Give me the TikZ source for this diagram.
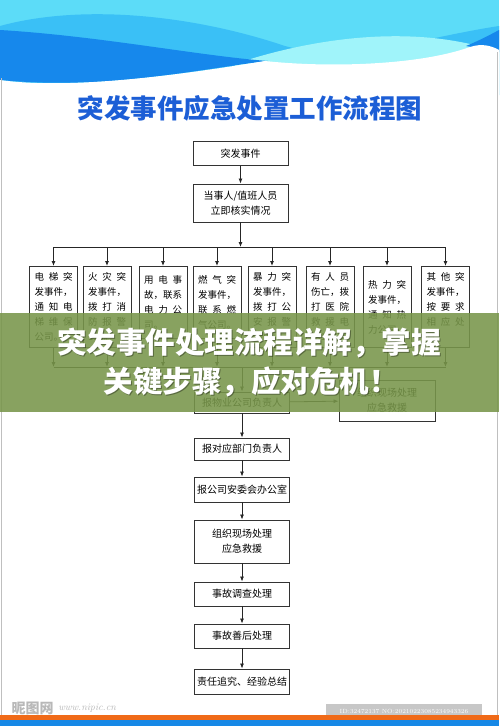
\documentclass[tikz,border=0pt]{standalone}
\usepackage{fontspec}
\newfontfamily\cjk{Noto Sans CJK SC}
\usetikzlibrary{
  arrows.meta,
  positioning
}
\definecolor{titleblue}{RGB}{28,94,214}
\definecolor{skycyan}{RGB}{92,220,248}
\definecolor{midblue}{RGB}{58,192,246}
\definecolor{deepblue}{RGB}{22,136,236}
\definecolor{paleaqua}{RGB}{160,244,250}
\definecolor{bannergreen}{RGB}{120,150,74}
\definecolor{barorange}{RGB}{240,106,24}
\definecolor{barblue}{RGB}{22,136,230}
\tikzset{
  flow/.style={-{Latex[length=5pt,width=4pt]},line width=.8pt,draw=black!85},
  rail/.style={line width=.8pt,draw=black!85},
  box/.style={
    draw=black!80,
    fill=white,
    line width=.9pt,
    align=center,
    minimum width=95pt,
    inner sep=2pt,
    font=\cjk\fontsize{10}{15}\selectfont
  },
  evbox/.style={
    draw=black!80,
    fill=white,
    line width=.9pt,
    anchor=north,
    text width=38pt,
    align=left,
    inner xsep=5pt,
    inner ysep=0pt,
    font=\cjk\fontsize{9.5}{15}\selectfont
  },
  headline/.style={font=\cjk\bfseries\fontsize{29.5}{29.5}\selectfont,text=white}
}
\newcommand{\sline}[1]{\makebox[38pt][s]{#1}}
\newcommand{\evnode}[4][]{%
  \node[evbox,#1] (#2) at (#3) {#4};%
}

\begin{document}
\begin{tikzpicture}[x=1pt,y=-1pt,font=\cjk]
  \useasboundingbox (0,0) rectangle (499,726);

  % Waves at the top.
  \fill[skycyan] (0,0) rectangle (499,95);
  \fill[midblue] (0,26) .. controls (80,4) and (190,14) .. (285,46)
    .. controls (350,64) and (420,38) .. (499,26) -- (499,95) -- (0,95) -- cycle;
  \fill[paleaqua] (235,64) .. controls (300,42) and (390,26) .. (470,44)
    -- (499,50) -- (499,95) -- (235,95) -- cycle;
  \fill[deepblue] (0,30) .. controls (100,36) and (200,56) .. (268,61)
    .. controls (190,70) and (110,90) .. (0,80) -- cycle;
  \fill[deepblue] (499,30) .. controls (488,36) and (478,41) .. (466,46) -- (499,52) -- cycle;
  \fill[white] (0,80) .. controls (70,90) and (180,75) .. (265,61)
    .. controls (330,68) and (420,65) .. (470,47)
    .. controls (482,43) and (492,46) .. (499,50) -- (499,726) -- (0,726) -- cycle;
  \draw[black!25] (1.5,78) -- (1.5,715) (497.5,52) -- (497.5,715);

  \node[font=\cjk\bfseries\fontsize{26.5}{26.5}\selectfont,text=titleblue] (title) at (250,108)
    {突发事件应急处置工作流程图};

  % Report chain.
  \node[box,minimum height=24pt] (event) at (240.5,153.5) {突发事件};
  \node[box,minimum height=38pt] (check) at (240.5,203) {当事人/值班人员\\立即核实情况};
  \coordinate (split) at (240.5,247);
  \coordinate (join) at (242,367);
  \draw[flow] (event) -- (check);
  \draw[flow] (check) -- (split);

  % Event types.
  \evnode[minimum height=81pt]{e1}{53.5,266}{\sline{电\hfill 梯\hfill 突}\\\sline{发事件，}\\\sline{通\hfill 知\hfill 电}\\\sline{梯\hfill 维\hfill 保}\\公司。}
  \evnode[minimum height=81pt]{e2}{107,266}{\sline{火\hfill 灾\hfill 突}\\\sline{发事件，}\\\sline{拨\hfill 打\hfill 消}\\\sline{防\hfill 报\hfill 警}\\119。}
  \evnode[minimum height=72pt]{e3}{163,266}{\sline{用\hfill 电\hfill 事}\\\sline{故，联系}\\\sline{电\hfill 力\hfill 公}\\司。}
  \evnode[minimum height=72pt]{e4}{217,266}{\sline{燃\hfill 气\hfill 突}\\\sline{发事件，}\\\sline{联\hfill 系\hfill 燃}\\气公司。}
  \evnode[minimum height=81pt]{e5}{272,266}{\sline{暴\hfill 力\hfill 突}\\\sline{发事件，}\\\sline{拨\hfill 打\hfill 公}\\\sline{安\hfill 报\hfill 警}\\110。}
  \evnode[minimum height=81pt]{e6}{330,266}{\sline{有\hfill 人\hfill 员}\\\sline{伤亡，拨}\\\sline{打\hfill 医\hfill 院}\\\sline{救\hfill 援\hfill 电}\\话120。}
  \evnode[minimum height=81pt]{e7}{387,266}{\sline{热\hfill 力\hfill 突}\\\sline{发事件，}\\\sline{通\hfill 知\hfill 热}\\力公司。}
  \evnode[minimum height=81pt]{e8}{445.5,266}{\sline{其\hfill 他\hfill 突}\\\sline{发事件，}\\\sline{按\hfill 要\hfill 求}\\\sline{相\hfill 应\hfill 处}\\置。}
  \draw[rail] (e1.north |- split) -- (e8.north |- split);
  \draw[rail] (e1.south |- join) -- (e8.south |- join);
  \foreach \i in {1,...,8} {
    \draw[flow] (e\i.north |- split) -- (e\i.north);
    \draw[flow] (e\i.south) -- (e\i.south |- join);
  }

  % Handling chain.
  \node[box,minimum height=21pt] (estate) at (242,402.5) {报物业公司负责人};
  \node[box,minimum width=96pt,minimum height=41pt] (onsite) at (387,400.5) {组织现场处理\\应急救援};
  \node[box,minimum height=22pt] (dept) at (242,449) {报对应部门负责人};
  \node[box,minimum height=25pt] (office) at (242,489.5) {报公司安委会办公室};
  \node[box,minimum height=43pt] (rescue) at (242,541.5) {组织现场处理\\应急救援};
  \node[box,minimum height=24pt] (probe) at (242,594) {事故调查处理};
  \node[box,minimum height=24pt] (after) at (242,636) {事故善后处理};
  \node[box,minimum height=25pt] (blame) at (242,681.5) {责任追究、经验总结};
  \draw[flow] (join) -- (estate);
  \draw[flow] (estate) -- (onsite);
  \draw[flow] (estate) -- (dept);
  \draw[flow] (dept) -- (office);
  \draw[flow] (office) -- (rescue);
  \draw[flow] (rescue) -- (probe);
  \draw[flow] (probe) -- (after);
  \draw[flow] (after) -- (blame);

  % Banner over the middle.
  \fill[bannergreen,opacity=.88] (0,313) rectangle (499,412);
  \node[headline,text=black,opacity=.35] at (250.2,344.2) {突发事件处理流程详解，掌握};
  \node[headline,text=black,opacity=.35] at (252.2,383.2) {关键步骤，应对危机！};
  \node[headline] (head1) at (249,343) {突发事件处理流程详解，掌握};
  \node[headline] (head2) at (251,382) {关键步骤，应对危机！};

  % Footer.
  \node[font=\cjk\bfseries\fontsize{14}{14}\selectfont,text=black!28,anchor=west] (logo) at (8,708) {昵图网};
  \node[font=\itshape\fontsize{10}{10}\selectfont,text=black!28,anchor=west,inner xsep=1pt] (site) at (logo.east) {www.nipic.cn};
  \node[fill=black!22,text=white,font=\fontsize{6}{6}\selectfont,minimum width=156pt,minimum height=14pt,inner sep=0pt] (stamp) at (404,711)
    {ID:32472137 NO:20210223085234943326};
  \fill[barorange] (0,715) rectangle (499,720);
  \fill[barblue] (0,720) rectangle (499,726);
\end{tikzpicture}
\end{document}
